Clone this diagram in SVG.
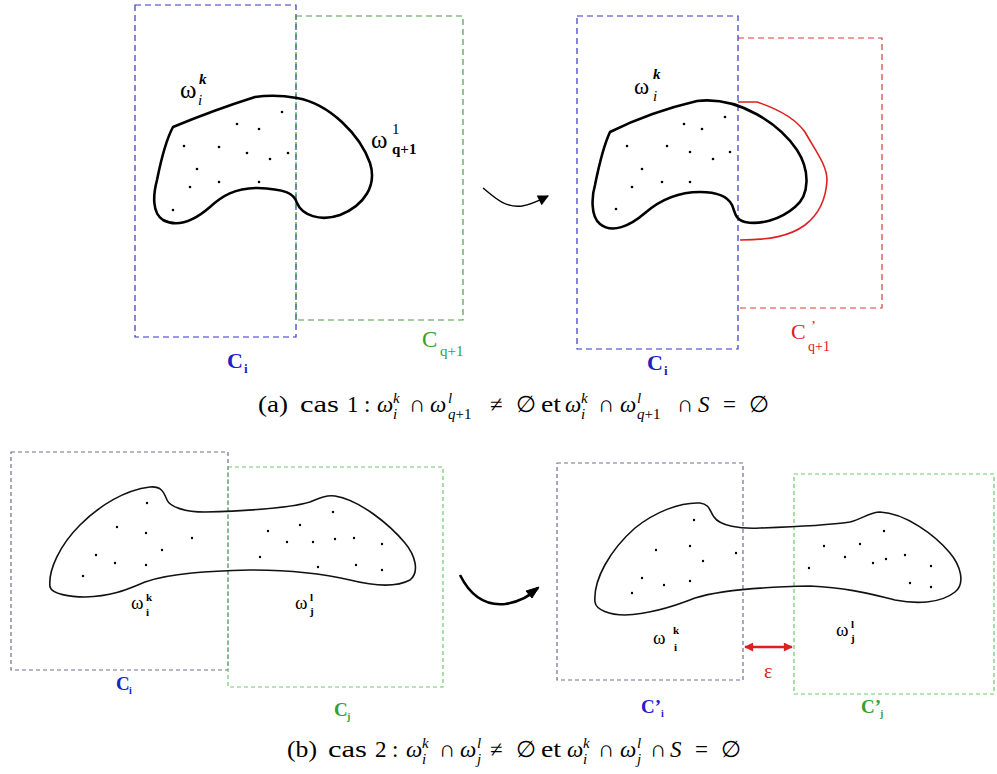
<svg xmlns="http://www.w3.org/2000/svg" width="997" height="774" viewBox="0 0 997 774">
<style>
.bg{fill:#ffffff}
.rb{fill:none;stroke:#3434c8;stroke-width:1.2;stroke-dasharray:6 4}
.rg{fill:none;stroke:#44a044;stroke-width:1.2;stroke-dasharray:6 4}
.rr{fill:none;stroke:#e03a3a;stroke-width:1.2;stroke-dasharray:6 4}
.rb2{fill:none;stroke:#6e6e90;stroke-width:1.2;stroke-dasharray:4 3}
.rg2{fill:none;stroke:#70c870;stroke-width:1.2;stroke-dasharray:4 3}
.blob{fill:none;stroke:#000;stroke-width:2.6;stroke-linejoin:round}
.blob2{fill:none;stroke:#111;stroke-width:1.6;stroke-linejoin:round}
.red{fill:none;stroke:#dd2020;stroke-width:1.6}
.dot{fill:#000}
.it{font-style:italic}
.bl{fill:#2020c8}
.gr{fill:#33a033}
.rd{fill:#dd2020}
</style>
<defs>
<marker id="ah" viewBox="0 0 10 10" refX="9" refY="5" markerWidth="17" markerHeight="11" orient="auto" markerUnits="userSpaceOnUse">
<path d="M0,0 L10,5 L0,10 Z" fill="#000"/>
</marker>
<marker id="rh" viewBox="0 0 10 10" refX="9" refY="5" markerWidth="10" markerHeight="9" orient="auto-start-reverse" markerUnits="userSpaceOnUse">
<path d="M0,0 L10,5 L0,10 Z" fill="#dd2020"/>
</marker>
</defs>
<rect class="bg" x="0" y="0" width="997" height="774"/>

<g font-family="Liberation Serif, Times New Roman, serif" fill="#000">
<!-- Panel (a) left -->
<g id="a-left">
<rect class="rb" x="135" y="5" width="161" height="332"/>
<rect class="rg" x="296" y="16" width="167" height="304"/>
<path class="blob" d="M173,127 Q214,110 255,97 Q275,94 297,98 C330,104 360,135 370,163 C377,185 365,205 340,215 C320,222 302,215 297,203 C294,193 285,189 257,188 C235,188 222,196 210,207 C195,220 178,228 163,220 C152,213 153,195 157,180 C161,160 166,140 173,127 Z"/>
<g class="dot">
<circle cx="282" cy="112" r="1.3"/><circle cx="237" cy="124" r="1.3"/><circle cx="259" cy="129" r="1.3"/>
<circle cx="184" cy="146" r="1.3"/><circle cx="219" cy="147" r="1.3"/><circle cx="247" cy="153" r="1.3"/>
<circle cx="270" cy="159" r="1.3"/><circle cx="288" cy="153" r="1.3"/><circle cx="197" cy="169" r="1.3"/>
<circle cx="190" cy="187" r="1.3"/><circle cx="219" cy="182" r="1.3"/><circle cx="259" cy="182" r="1.3"/>
<circle cx="173" cy="210" r="1.3"/>
</g>
<text x="180" y="98" font-size="25">ω</text>
<text class="it" x="199" y="84" font-size="15" font-weight="bold">k</text>
<text class="it" x="198" y="105" font-size="15">i</text>
<text x="371" y="148" font-size="25">ω</text>
<text x="392" y="134" font-size="15">1</text>
<text x="392" y="154" font-size="15" font-weight="bold">q+1</text>
<text class="bl" x="227" y="368" font-size="22" font-weight="bold">C</text>
<text class="bl" x="244" y="373" font-size="13" font-weight="bold">i</text>
<text class="gr" x="422" y="347" font-size="23">C</text>
<text class="gr" x="440" y="356" font-size="15">q+1</text>
</g>

<!-- Panel (a) right -->
<g id="a-right">
<path class="rr" d="M738,38 H882 V308 H738"/>
<rect class="rb" x="577" y="16" width="161" height="333"/>
<path class="red" d="M738,102 L757,102 C775,108 795,118 805,132 C815,150 827,165 827,180 C826,200 818,215 805,225 C790,236 770,240 740,240"/>
<path class="blob" d="M610,132 Q650,112 697,101 C740,96 780,125 797,150 C810,170 810,195 795,207 C780,220 760,225 745,222 C735,220 735,212 732,205 C727,195 715,192 700,192 C678,192 660,200 645,213 C630,226 612,234 600,224 C590,216 592,195 595,185 C599,165 604,145 610,132 Z"/>
<g class="dot">
<circle cx="725" cy="117" r="1.3"/><circle cx="684" cy="124" r="1.3"/><circle cx="702" cy="129" r="1.3"/>
<circle cx="627" cy="146" r="1.3"/><circle cx="667" cy="146" r="1.3"/><circle cx="690" cy="152" r="1.3"/>
<circle cx="713" cy="159" r="1.3"/><circle cx="730" cy="152" r="1.3"/><circle cx="642" cy="169" r="1.3"/>
<circle cx="632" cy="187" r="1.3"/><circle cx="662" cy="182" r="1.3"/><circle cx="690" cy="182" r="1.3"/>
<circle cx="616" cy="209" r="1.3"/>
</g>
<text x="634" y="94" font-size="23">ω</text>
<text class="it" x="653" y="79" font-size="15" font-weight="bold">k</text>
<text class="it" x="653" y="101" font-size="15">i</text>
<text class="bl" x="647" y="370" font-size="22" font-weight="bold">C</text>
<text class="bl" x="664" y="375" font-size="13" font-weight="bold">i</text>
<text class="rd" x="791" y="339" font-size="22">C</text>
<text class="rd" x="811" y="331" font-size="15">’</text>
<text class="rd" x="808" y="351" font-size="14">q+1</text>
</g>

<!-- Panel (b) left -->
<g id="b-left">
<rect class="rb2" x="11" y="452" width="217" height="218"/>
<rect class="rg2" x="228" y="467" width="215" height="220"/>
<path class="blob2" d="M50,587 C48,570 60,545 80,525 C100,505 125,490 150,487 C162,486 164,493 167,500 C170,507 185,512 205,512 C240,511 290,508 310,502 C320,498 325,495 335,496 C360,500 390,525 405,543 C415,555 420,572 410,580 C395,588 370,585 350,580 C320,573 290,570 250,570 C210,571 170,573 145,582 C130,588 115,596 85,597 C70,597 52,594 50,587 Z"/>
<g class="dot">
<circle cx="147" cy="503" r="1.2"/><circle cx="117" cy="527" r="1.2"/><circle cx="146" cy="533" r="1.2"/>
<circle cx="192" cy="538" r="1.2"/><circle cx="162" cy="550" r="1.2"/><circle cx="96" cy="555" r="1.2"/>
<circle cx="115" cy="563" r="1.2"/><circle cx="146" cy="565" r="1.2"/><circle cx="83" cy="576" r="1.2"/>
<circle cx="333" cy="512" r="1.2"/><circle cx="300" cy="525" r="1.2"/><circle cx="268" cy="531" r="1.2"/>
<circle cx="287" cy="542" r="1.2"/><circle cx="313" cy="542" r="1.2"/><circle cx="335" cy="539" r="1.2"/>
<circle cx="354" cy="538" r="1.2"/><circle cx="382" cy="544" r="1.2"/><circle cx="260" cy="557" r="1.2"/>
<circle cx="318" cy="567" r="1.2"/><circle cx="356" cy="565" r="1.2"/><circle cx="382" cy="570" r="1.2"/>
</g>
<text x="131" y="609" font-size="19">ω</text>
<text x="146" y="601" font-size="11" font-weight="bold">k</text>
<text x="146" y="616" font-size="11" font-weight="bold">i</text>
<text x="295" y="609" font-size="19">ω</text>
<text x="310" y="601" font-size="11" font-weight="bold">l</text>
<text x="310" y="615" font-size="11" font-weight="bold">j</text>
<text class="bl" x="116" y="690" font-size="19" font-weight="bold">C</text>
<text class="bl" x="129" y="694" font-size="10" font-weight="bold">i</text>
<text class="gr" x="334" y="716" font-size="19" font-weight="bold">C</text>
<text class="gr" x="347" y="720" font-size="10" font-weight="bold">j</text>
</g>

<!-- Panel (b) right -->
<g id="b-right">
<rect class="rb2" x="557" y="463" width="186" height="217"/>
<rect class="rg2" x="794" y="474" width="200" height="220"/>
<path class="blob2" d="M595,602 C593,580 610,550 635,528 C655,512 680,502 700,503 C710,504 710,512 714,517 C720,526 740,529 760,528 C790,527 830,525 850,522 C862,519 870,512 880,512 C905,513 935,535 950,553 C960,565 966,583 955,592 C940,604 915,604 895,600 C870,594 850,588 810,586 C760,587 720,590 695,598 C675,606 650,614 625,615 C610,615 596,610 595,602 Z"/>
<g class="dot">
<circle cx="694" cy="520" r="1.2"/><circle cx="656" cy="550" r="1.2"/><circle cx="690" cy="546" r="1.2"/>
<circle cx="703" cy="561" r="1.2"/><circle cx="736" cy="553" r="1.2"/><circle cx="642" cy="578" r="1.2"/>
<circle cx="664" cy="585" r="1.2"/><circle cx="690" cy="581" r="1.2"/><circle cx="632" cy="593" r="1.2"/>
<circle cx="884" cy="531" r="1.2"/><circle cx="824" cy="546" r="1.2"/><circle cx="860" cy="544" r="1.2"/>
<circle cx="845" cy="557" r="1.2"/><circle cx="873" cy="563" r="1.2"/><circle cx="886" cy="559" r="1.2"/>
<circle cx="905" cy="555" r="1.2"/><circle cx="931" cy="566" r="1.2"/><circle cx="809" cy="568" r="1.2"/>
<circle cx="910" cy="583" r="1.2"/><circle cx="931" cy="587" r="1.2"/>
</g>
<text x="653" y="644" font-size="19">ω</text>
<text x="673" y="634" font-size="11" font-weight="bold">k</text>
<text x="674" y="651" font-size="11" font-weight="bold">i</text>
<text x="836" y="636" font-size="19">ω</text>
<text x="851" y="628" font-size="11" font-weight="bold">l</text>
<text x="851" y="642" font-size="11" font-weight="bold">j</text>
<text class="rd" x="764" y="678" font-size="20">ε</text>
<text class="bl" x="641" y="713" font-size="19" font-weight="bold">C’</text>
<text class="bl" x="661" y="717" font-size="10" font-weight="bold">i</text>
<text class="gr" x="861" y="713" font-size="19" font-weight="bold">C’</text>
<text class="gr" x="880" y="717" font-size="10" font-weight="bold">j</text>
</g>

<!-- Connectors -->
<g id="connectors">
<path d="M483,188 C495,198 505,208 522,206 C533,204 540,200 548,196" fill="none" stroke="#000" stroke-width="1.4" marker-end="url(#ah)"/>
<path d="M460,575 C470,595 485,606 505,604 C518,602 530,596 538,588" fill="none" stroke="#000" stroke-width="2.6"/>
<path d="M539,587 L526,591 L532,598 Z" fill="#000" stroke="#000" stroke-width="1"/>
<line x1="745" y1="647" x2="792" y2="647" stroke="#dd2020" stroke-width="2.6" marker-start="url(#rh)" marker-end="url(#rh)"/>
</g>

<!-- Captions -->
<g id="caption-a" font-size="23">
<text x="258" y="412" textLength="30" lengthAdjust="spacingAndGlyphs">(a)</text>
<text x="300" y="412" textLength="39" lengthAdjust="spacingAndGlyphs">cas</text>
<text x="347" y="412">1</text>
<text x="364" y="412">:</text>
<text x="377" y="412" class="it">ω</text>
<text x="393" y="403" font-size="15" font-style="italic">k</text>
<text x="393" y="419" font-size="15" font-style="italic">i</text>
<text x="409" y="412">∩</text>
<text x="430" y="412" class="it">ω</text>
<text x="448" y="403" font-size="15" font-style="italic">l</text>
<text x="448" y="419" font-size="15"><tspan font-style="italic">q</tspan>+1</text>
<text x="490" y="412">≠</text>
<text x="516" y="412">∅</text>
<text x="541" y="412" textLength="20" lengthAdjust="spacingAndGlyphs">et</text>
<text x="565" y="412" class="it">ω</text>
<text x="581" y="403" font-size="15" font-style="italic">k</text>
<text x="581" y="419" font-size="15" font-style="italic">i</text>
<text x="598" y="412">∩</text>
<text x="620" y="412" class="it">ω</text>
<text x="637" y="403" font-size="15" font-style="italic">l</text>
<text x="637" y="419" font-size="15"><tspan font-style="italic">q</tspan>+1</text>
<text x="677" y="412">∩</text>
<text x="698" y="412" class="it">S</text>
<text x="723" y="412">=</text>
<text x="749" y="412">∅</text>
</g>
<g id="caption-b" font-size="23">
<text x="287" y="757" textLength="30" lengthAdjust="spacingAndGlyphs">(b)</text>
<text x="328" y="757" textLength="39" lengthAdjust="spacingAndGlyphs">cas</text>
<text x="375" y="757">2</text>
<text x="392" y="757">:</text>
<text x="406" y="757" class="it">ω</text>
<text x="422" y="748" font-size="15" font-style="italic">k</text>
<text x="422" y="764" font-size="15" font-style="italic">i</text>
<text x="439" y="757">∩</text>
<text x="460" y="757" class="it">ω</text>
<text x="477" y="748" font-size="15" font-style="italic">l</text>
<text x="477" y="764" font-size="15" font-style="italic">j</text>
<text x="490" y="757">≠</text>
<text x="516" y="757">∅</text>
<text x="541" y="757" textLength="20" lengthAdjust="spacingAndGlyphs">et</text>
<text x="567" y="757" class="it">ω</text>
<text x="583" y="748" font-size="15" font-style="italic">k</text>
<text x="583" y="764" font-size="15" font-style="italic">i</text>
<text x="598" y="757">∩</text>
<text x="620" y="757" class="it">ω</text>
<text x="637" y="748" font-size="15" font-style="italic">l</text>
<text x="637" y="764" font-size="15" font-style="italic">j</text>
<text x="650" y="757">∩</text>
<text x="670" y="757" class="it">S</text>
<text x="695" y="757">=</text>
<text x="721" y="757">∅</text>
</g>
</g>
</svg>
